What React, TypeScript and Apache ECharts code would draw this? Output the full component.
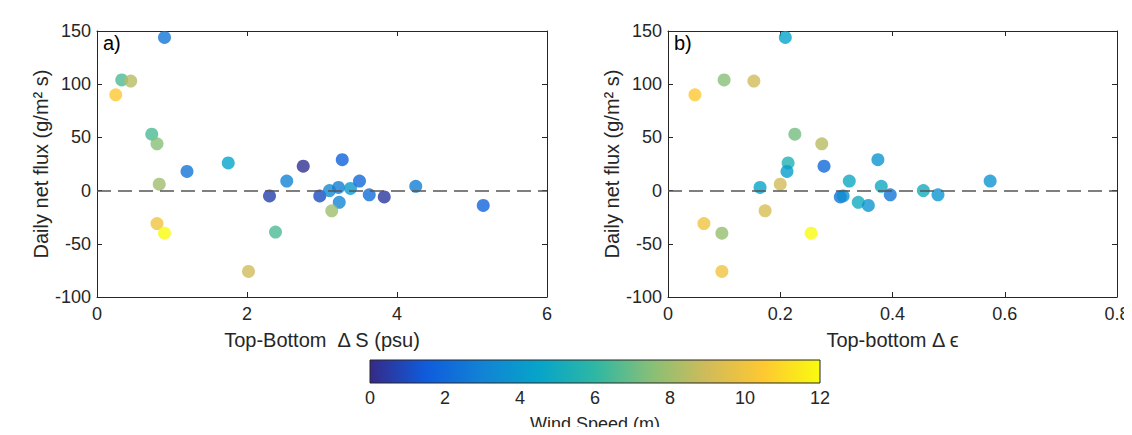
import React, { useEffect, useRef } from "react";
import * as echarts from "echarts";

const parula = ["#352a87", "#0f5cdd", "#1283d4", "#06a4ca", "#2eb7a4", "#87bf77", "#d1bb59", "#fec832", "#f9fb0e"];

// [deltaS, flux, wind]
const panelA: number[][] = [
  [0.9, 144, 2.5], [0.33, 104, 6.5], [0.45, 103, 8.5], [0.25, 90, 10.5],
  [0.73, 53, 6.5], [0.8, 44, 7.5], [0.83, 6, 8], [0.8, -31, 10], [0.9, -40, 12],
  [1.2, 18, 2.5], [1.75, 26, 4.5], [2.3, -5, 0.6], [2.53, 9, 3], [2.38, -39, 6.5],
  [2.02, -76, 9], [2.75, 23, 0.2], [2.97, -5, 1], [3.1, 0, 3.3], [3.22, 3, 2.8],
  [3.27, 29, 1.7], [3.23, -11, 3.2], [3.13, -19, 8], [3.38, 2, 4], [3.5, 9, 2],
  [3.63, -4, 2.2], [3.83, -6, 0.4], [4.25, 4, 2.8], [5.15, -14, 1.8],
];
// [deltaEps, flux, wind]
const panelB: number[][] = [
  [0.209, 144, 4.5], [0.1, 104, 7.5], [0.153, 103, 9], [0.048, 90, 10.5],
  [0.226, 53, 7.2], [0.274, 44, 8.5], [0.214, 26, 5.5], [0.212, 18, 4.2],
  [0.278, 23, 2], [0.164, 3, 4.5], [0.2, 6, 9], [0.173, -19, 9.2],
  [0.064, -31, 10], [0.096, -40, 7.8], [0.096, -76, 10], [0.255, -40, 12],
  [0.323, 9, 4.8], [0.307, -6, 2.5], [0.312, -5, 3.5], [0.339, -11, 5],
  [0.357, -14, 3.8], [0.374, 29, 3.8], [0.38, 4, 4.8], [0.396, -4, 2.5],
  [0.455, 0, 5], [0.481, -4, 3.8], [0.574, 9, 3.8],
];
const windTicks = [0, 12, 2];

const font = "Liberation Sans";

export default function App() {
  const ref = useRef<HTMLDivElement>(null);
  useEffect(() => {
    const chart = echarts.init(ref.current!, undefined, { renderer: "svg" });
    const lab = { color: "#262626", fontSize: 18, fontFamily: font };
    const axisLine = { show: true, onZero: false, lineStyle: { color: "#262626" } };
    const tick = { show: true, inside: true, length: 5, lineStyle: { color: "#262626" } };
    const mkX = (grid: number, min: number, max: number, interval: number, name: string, dec: boolean) => [
      {
        type: "value", gridIndex: grid, min, max, interval, position: "bottom",
        name, nameLocation: "middle", nameGap: 33,
        nameTextStyle: { ...lab, fontSize: 20 },
        axisLine, axisTick: tick, splitLine: { show: false },
        axisLabel: { ...lab, margin: 8, formatter: (v: number) => (dec ? (v === 0 ? "0" : v.toFixed(1)) : String(v)) },
      },
      { type: "value", gridIndex: grid, min, max, interval, position: "top", axisLine, axisTick: tick, axisLabel: { show: false }, splitLine: { show: false } },
    ];
    const mkY = (grid: number) => [
      {
        type: "value", gridIndex: grid, min: -100, max: 150, interval: 50, position: "left",
        name: "Daily net flux (g/m² s)", nameLocation: "middle", nameGap: 46,
        nameTextStyle: { ...lab, fontSize: 20 },
        axisLine, axisTick: tick, splitLine: { show: false }, axisLabel: { ...lab, margin: 6 },
      },
      { type: "value", gridIndex: grid, min: -100, max: 150, interval: 50, position: "right", axisLine, axisTick: tick, axisLabel: { show: false }, splitLine: { show: false } },
    ];
    const markLine = {
      silent: true, symbol: "none", label: { show: false },
      lineStyle: { color: "#555", type: [14, 7], width: 1.5 },
      data: [{ yAxis: 0 }],
    };
    chart.setOption({
      animation: false,
      grid: [
        { left: 89, width: 450, top: 23, height: 266, outerBoundsMode: "none" },
        { left: 660, width: 449, top: 23, height: 266, outerBoundsMode: "none" },
        { left: 362, width: 450, top: 352, height: 23, show: false, outerBoundsMode: "none" },
      ],
      xAxis: [
        ...mkX(0, 0, 6, 2, "Top-Bottom  Δ S (psu)", false),
        ...mkX(1, 0, 0.8, 0.2, "Top-bottom Δ ϵ", true),
        {
          type: "value", gridIndex: 2, min: windTicks[0], max: windTicks[1], interval: windTicks[2], position: "bottom",
          name: "Wind Speed (m)", nameLocation: "middle", nameGap: 32, nameTextStyle: { ...lab, fontSize: 18 },
          axisLine: { show: false, onZero: false }, axisTick: { show: false }, splitLine: { show: false },
          axisLabel: { ...lab, margin: 6 },
        },
      ],
      yAxis: [...mkY(0), ...mkY(1), { type: "value", gridIndex: 2, show: false, min: 0, max: 1 }],
      visualMap: {
        show: false, type: "continuous", min: 0, max: 12, dimension: 2, seriesIndex: [0, 1],
        inRange: { color: parula },
      },
      graphic: [
        {
          type: "rect", shape: { x: 362, y: 352, width: 450, height: 23 },
          style: {
            stroke: "#262626", lineWidth: 1,
            fill: new echarts.graphic.LinearGradient(0, 0, 1, 0, parula.map((c, i) => ({ offset: i / (parula.length - 1), color: c }))),
          },
        },
        { type: "text", left: 95, top: 25, style: { text: "a)", fontSize: 20, fontFamily: font, fill: "#000" } },
        { type: "text", left: 666, top: 25, style: { text: "b)", fontSize: 20, fontFamily: font, fill: "#000" } },
      ],
      series: [
        { type: "scatter", xAxisIndex: 0, yAxisIndex: 0, symbolSize: 13, data: panelA, markLine },
        { type: "scatter", xAxisIndex: 2, yAxisIndex: 2, symbolSize: 13, data: panelB, markLine },
      ],
    });
    return () => chart.dispose();
  }, []);
  return <div ref={ref} style={{ width: 1124, height: 419 }} />;
}
